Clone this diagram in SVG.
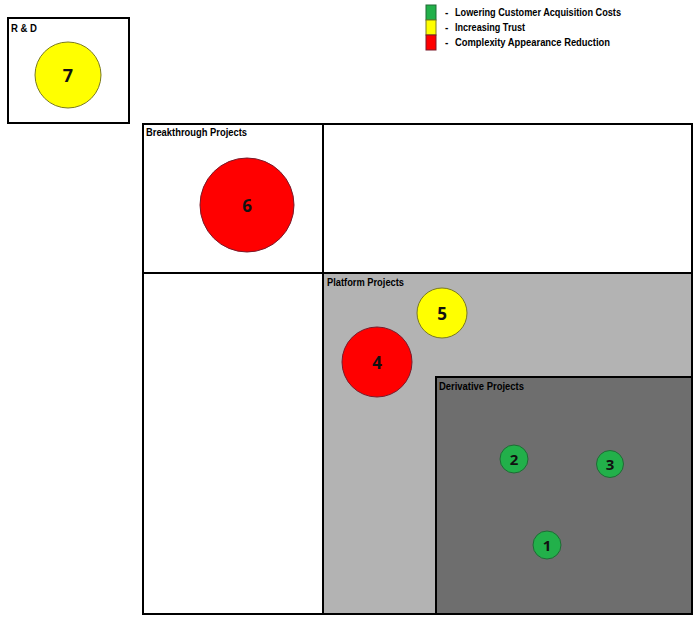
<svg xmlns="http://www.w3.org/2000/svg" width="700" height="620" viewBox="0 0 700 620">
<style>
.box{stroke:#000;stroke-width:2}
.lbl{font-family:"Liberation Sans",Arial,sans-serif;font-weight:bold;font-size:10px;fill:#000}
.num{font-family:"Open Sans","Liberation Sans",sans-serif;font-weight:bold;fill:#111;text-anchor:middle;dominant-baseline:central}
.g{fill:#22b04a;stroke:#1f6b35;stroke-width:1}
.y{fill:#ffff00;stroke:#7a7a20;stroke-width:1}
.r{fill:#ff0000;stroke:#7a1a2a;stroke-width:1}
</style>
<rect width="700" height="620" fill="#fff"/>
<g id="legend">
<rect x="426" y="5" width="10" height="15" class="g" stroke="#000"/>
<rect x="426" y="20" width="10" height="15" class="y" stroke="#000"/>
<rect x="426" y="35" width="10" height="15" class="r" stroke="#000"/>
<text class="lbl" x="445" y="16">-</text>
<text class="lbl" x="445" y="31">-</text>
<text class="lbl" x="445" y="46">-</text>
<text class="lbl" x="455" y="16" textLength="166" lengthAdjust="spacingAndGlyphs">Lowering Customer Acquisition Costs</text>
<text class="lbl" x="455" y="31" textLength="70" lengthAdjust="spacingAndGlyphs">Increasing Trust</text>
<text class="lbl" x="455" y="46" textLength="155" lengthAdjust="spacingAndGlyphs">Complexity Appearance Reduction</text>
</g>
<g id="rnd">
<rect x="8" y="18" width="121" height="105" fill="#fff" class="box"/>
<text class="lbl" x="11" y="32" textLength="26" lengthAdjust="spacingAndGlyphs">R &amp; D</text>
</g>
<g id="breakthrough">
<rect x="143" y="124" width="180" height="149" fill="#fff" class="box"/>
<text class="lbl" x="146" y="136" textLength="101" lengthAdjust="spacingAndGlyphs">Breakthrough Projects</text>
</g>
<g id="topright"><rect x="323" y="124" width="369" height="149" fill="#fff" class="box"/></g>
<g id="bottomleft"><rect x="143" y="273" width="180" height="341" fill="#fff" class="box"/></g>
<g id="platform">
<rect x="323" y="273" width="369" height="341" fill="#b3b3b3" class="box"/>
<text class="lbl" x="327" y="286" textLength="77" lengthAdjust="spacingAndGlyphs">Platform Projects</text>
</g>
<g id="derivative">
<rect x="436" y="377" width="256" height="237" fill="#6e6e6e" class="box"/>
<text class="lbl" x="439" y="390" textLength="85" lengthAdjust="spacingAndGlyphs">Derivative Projects</text>
</g>
<g id="c7"><circle cx="68" cy="75" r="33" class="y"/><text class="num" x="68" y="75" font-size="18">7</text></g>
<g id="c6"><circle cx="247" cy="205" r="47" class="r"/><text class="num" x="247" y="205" font-size="17">6</text></g>
<g id="c5"><circle cx="442" cy="313" r="25" class="y"/><text class="num" x="442" y="313" font-size="17">5</text></g>
<g id="c4"><circle cx="377" cy="362" r="35" class="r"/><text class="num" x="377" y="362" font-size="17">4</text></g>
<g id="c2"><circle cx="514" cy="459" r="14" class="g"/><text class="num" x="514" y="459" font-size="15">2</text></g>
<g id="c3"><circle cx="610" cy="464" r="13.5" class="g"/><text class="num" x="610" y="464" font-size="15">3</text></g>
<g id="c1"><circle cx="547" cy="545" r="14" class="g"/><text class="num" x="547" y="545" font-size="15">1</text></g>
<g id="connectors"/>
</svg>
